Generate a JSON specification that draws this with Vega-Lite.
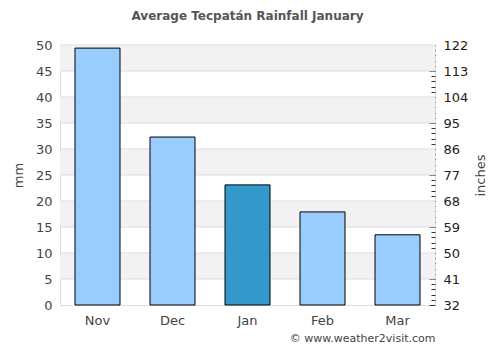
{
  "$schema": "https://vega.github.io/schema/vega-lite/v6.json",
  "width": 375,
  "height": 260,
  "autosize": "none",
  "padding": {"left": 60, "top": 45, "right": 65, "bottom": 45},
  "background": "white",
  "config": {"view": {"stroke": "#dddddd"}, "font": "DejaVu Sans"},
  "title": {"text": "Average Tecpatán Rainfall January", "fontSize": 12, "fontWeight": "bold", "color": "#555555", "font": "DejaVu Sans", "offset": 16, "frame": "group", "anchor": "middle"},
  "datasets": {
    "rain": [
      {"month": "Nov", "mm": 49.4, "current": "no"},
      {"month": "Dec", "mm": 32.3, "current": "no"},
      {"month": "Jan", "mm": 23.1, "current": "yes"},
      {"month": "Feb", "mm": 17.9, "current": "no"},
      {"month": "Mar", "mm": 13.5, "current": "no"}
    ],
    "bands": [
      {"lo": 0, "hi": 5, "shade": "white"},
      {"lo": 5, "hi": 10, "shade": "grey"},
      {"lo": 10, "hi": 15, "shade": "white"},
      {"lo": 15, "hi": 20, "shade": "grey"},
      {"lo": 20, "hi": 25, "shade": "white"},
      {"lo": 25, "hi": 30, "shade": "grey"},
      {"lo": 30, "hi": 35, "shade": "white"},
      {"lo": 35, "hi": 40, "shade": "grey"},
      {"lo": 40, "hi": 45, "shade": "white"},
      {"lo": 45, "hi": 50, "shade": "grey"}
    ]
  },
  "layer": [
    {
      "layer": [
        {
          "data": {"name": "bands"},
          "transform": [{"filter": "datum.shade == 'grey'"}],
          "mark": {"type": "rect", "fill": "#f2f2f2"},
          "encoding": {
            "y": {"field": "lo", "type": "quantitative", "scale": {"domain": [0, 50], "nice": false},
              "axis": {"orient": "left", "values": [0, 5, 10, 15, 20, 25, 30, 35, 40, 45, 50], "labelOverlap": false, "ticks": false, "domain": false, "grid": false, "labelPadding": 8, "labelFontSize": 13, "labelColor": "#444444", "title": "mm", "titleFontSize": 13, "titleFontWeight": "normal", "titleColor": "#444444", "titlePadding": 10}},
            "y2": {"field": "hi"}
          }
        },
        {
          "data": {"name": "bands"},
          "mark": {"type": "rule", "color": "#dddddd", "strokeWidth": 1},
          "encoding": {"y": {"field": "hi", "type": "quantitative",
              "axis": {"orient": "left", "values": [0, 5, 10, 15, 20, 25, 30, 35, 40, 45, 50], "labelOverlap": false, "ticks": false, "domain": false, "grid": false, "labelPadding": 8, "labelFontSize": 13, "labelColor": "#444444", "title": "mm", "titleFontSize": 13, "titleFontWeight": "normal", "titleColor": "#444444", "titlePadding": 10}}}
        },
        {
          "data": {"name": "rain"},
          "mark": {"type": "bar", "stroke": "black", "strokeWidth": 1},
          "encoding": {
            "x": {"field": "month", "type": "nominal", "sort": null, "scale": {"paddingInner": 0.4, "paddingOuter": 0.2},
              "axis": {"labelAngle": 0, "ticks": false, "domain": false, "labelPadding": 9, "labelFontSize": 13, "labelColor": "#444444", "title": "© www.weather2visit.com", "titleAnchor": "end", "titleFontSize": 11, "titleFontWeight": "normal", "titleColor": "#444444", "titlePadding": 5}},
            "y": {"field": "mm", "type": "quantitative",
              "axis": {"orient": "left", "values": [0, 5, 10, 15, 20, 25, 30, 35, 40, 45, 50], "labelOverlap": false, "ticks": false, "domain": false, "grid": false, "labelPadding": 8, "labelFontSize": 13, "labelColor": "#444444", "title": "mm", "titleFontSize": 13, "titleFontWeight": "normal", "titleColor": "#444444", "titlePadding": 10}},
            "color": {"field": "current", "type": "nominal", "scale": {"domain": ["no", "yes"], "range": ["#99ccff", "#3399cc"]}, "legend": null}
          }
        }
      ]
    },
    {
      "data": {"name": "rain"},
      "mark": {"type": "tick", "opacity": 0},
      "encoding": {
        "y": {"field": "mm", "type": "quantitative", "scale": {"domain": [0, 50], "nice": false},
          "axis": {"orient": "right", "values": [0, 5, 10, 15, 20, 25, 30, 35, 40, 45, 50], "labelOverlap": false, "labelExpr": "round(datum.value * 1.8 + 32)", "tickSize": -6, "tickColor": "#333333", "domain": false, "grid": false, "labelPadding": 14, "labelFontSize": 13, "labelColor": "#222222", "title": "inches", "titleAngle": 270, "titleFontSize": 13, "titleFontWeight": "normal", "titleColor": "#444444", "titlePadding": 20}}
      }
    },
    {
      "data": {"name": "rain"},
      "mark": {"type": "tick", "opacity": 0},
      "encoding": {
        "y": {"field": "mm", "type": "quantitative", "scale": {"domain": [0, 50], "nice": false},
          "axis": {"orient": "right", "values": [1, 2, 3, 4, 6, 7, 8, 9, 11, 12, 13, 14, 16, 17, 18, 19, 21, 22, 23, 24, 26, 27, 28, 29, 31, 32, 33, 34, 36, 37, 38, 39, 41, 42, 43, 44, 46, 47, 48, 49], "tickSize": -4, "tickColor": "#333333", "labels": false, "domain": false, "grid": false, "title": null}}
      }
    }
  ],
  "resolve": {"scale": {"y": "independent"}}
}
